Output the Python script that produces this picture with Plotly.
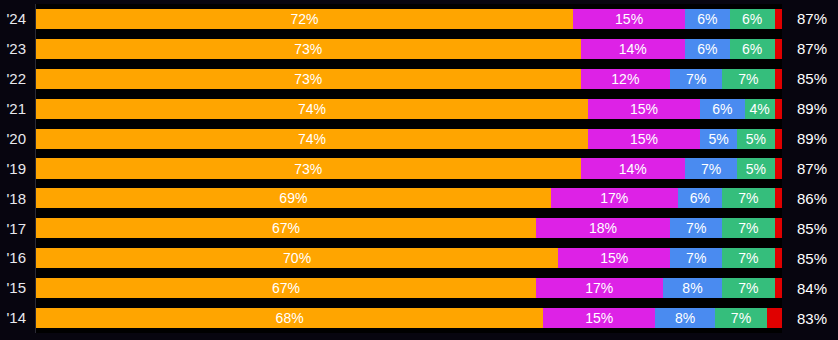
import plotly.graph_objects as go

# Years, top to bottom
years = ["'24", "'23", "'22", "'21", "'20", "'19", "'18", "'17", "'16", "'15", "'14"]

# Share of each segment (%)
orange = [72, 73, 73, 74, 74, 73, 69, 67, 70, 67, 68]
magenta = [15, 14, 12, 15, 15, 14, 17, 18, 15, 17, 15]
blue = [6, 6, 7, 6, 5, 7, 6, 7, 7, 8, 8]
green = [6, 6, 7, 4, 5, 5, 7, 7, 7, 7, 7]
red = [1, 1, 1, 1, 1, 1, 1, 1, 1, 1, 2]

# Total shown on the right of each bar (%)
totals = [87, 87, 85, 89, 89, 87, 86, 85, 85, 84, 83]

segments = [
    (orange, "#FFA500", True),
    (magenta, "#DD22E6", True),
    (blue, "#4A8BF0", True),
    (green, "#35BE7C", True),
    (red, "#E00000", False),
]

fig = go.Figure()
for vals, color, labelled in segments:
    fig.add_trace(go.Bar(
        y=years,
        x=vals,
        orientation="h",
        marker=dict(color=color, line=dict(width=0)),
        width=0.67,
        text=[f"{v}%" for v in vals] if labelled else None,
        textposition="inside" if labelled else "none",
        insidetextanchor="middle",
        textangle=0,
        constraintext="none",
        textfont=dict(color="#FFFFFF", size=14, family="Liberation Sans, Arial, sans-serif"),
        hoverinfo="skip",
        showlegend=False,
    ))

for yr, t in zip(years, totals):
    fig.add_annotation(
        x=1, xref="paper", y=yr, yref="y",
        text=f"{t}%", showarrow=False,
        xanchor="center", xshift=30,
        font=dict(color="#FFFFFF", size=15, family="Liberation Sans, Arial, sans-serif"),
    )

fig.update_layout(
    barmode="stack",
    width=838, height=340,
    margin=dict(l=36, r=56, t=4, b=7),
    paper_bgcolor="#07050f",
    plot_bgcolor="#000000",
    xaxis=dict(range=[0, 100], visible=False, fixedrange=True),
    yaxis=dict(
        categoryorder="array", categoryarray=years[::-1],
        range=[-0.5, 10.5],
        showgrid=False, zeroline=False,
        showline=True, linecolor="#2a2a34", linewidth=1,
        ticks="", ticklabelstandoff=6,
        tickfont=dict(color="#E8E8EE", size=15, family="Liberation Sans, Arial, sans-serif"),
    ),
)

fig.write_html("out.html")
